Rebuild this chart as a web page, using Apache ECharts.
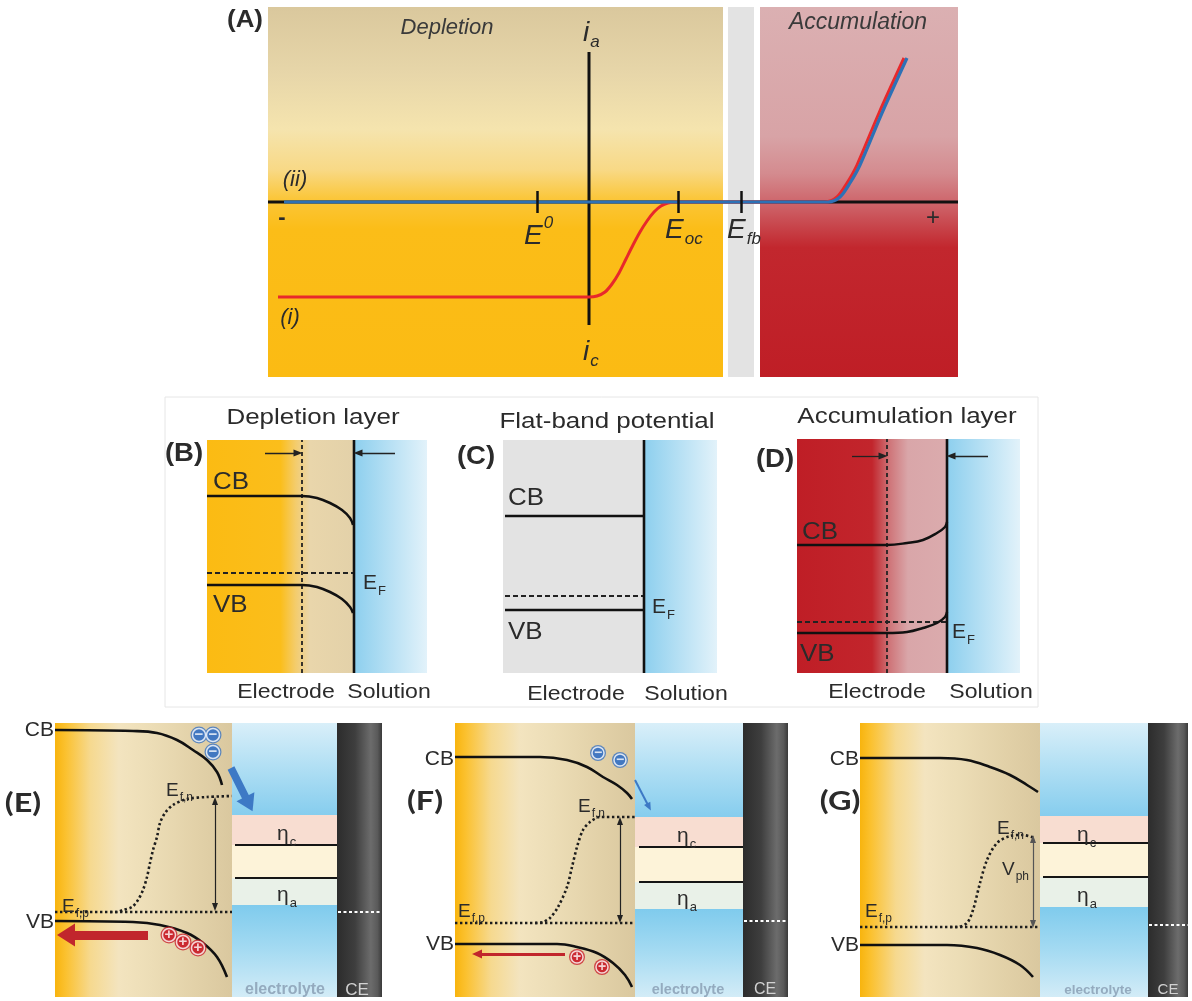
<!DOCTYPE html>
<html>
<head>
<meta charset="utf-8">
<title>Semiconductor electrode: current-potential and band diagrams</title>
<script src="https://cdn.jsdelivr.net/npm/echarts@6/dist/echarts.min.js"></script>
<style>
html,body{margin:0;padding:0;background:#ffffff;}
#chart{width:1192px;height:1001px;}
</style>
</head>
<body>
<div id="chart"></div>
<script>
// ================= DATA (schematic values) =================
// ---- Panel A : potential (x) vs current (y) ----
const A_depletionRange = [0, 455];
const A_flatbandRange = [460, 486];
const A_accumulationRange = [492, 690];
const A_currentRange = [-175, 195];
const A_potentialAxis = [[0, 0], [690, 0]];
const A_currentAxis = [[321, 150], [321, -123]];
const A_tickPotentials = [269, 410, 473];            // E0, Eoc, Efb
const A_tickHalf = 11;
const A_curve_i = [[10,-95],[290,-95],[321,-95],[329,-94],[337,-90],[344,-82],[351,-71],[358,-57],[365,-43],[372,-30],[379,-19],[386,-10],[393,-4],[400,-1],[408,0],[540,0],[557,0],[569,5],[579,19],[589,37],[611,89],[636,144]];
const A_curve_ii = [[16,0],[545,0],[560,0],[572,5],[582,19],[592,37],[614,89],[639,144]];

// ---- Panel B : depletion layer ----
const B_electrodeRange = [0, 147];
const B_solutionRange = [147, 220];
const B_height = [0, 233];
const B_CB = [[0,177],[95,177],[110,175],[123,170],[135,163],[143,155],[146,148]];
const B_VB = [[0,88],[95,88],[110,86],[123,81],[135,74],[143,66],[146,60]];
const B_EF = [[0,100],[147,100]];
const B_layerEdge = [[95,0],[95,233]];
const B_interface = [[147,0],[147,233]];
const B_widthArrows = [[[58,220],[91,220]], [[188,220],[151,220]]];

// ---- Panel C : flat-band potential ----
const C_electrodeRange = [0, 141];
const C_solutionRange = [141, 214];
const C_height = [0, 233];
const C_CB = [[2,157],[141,157]];
const C_VB = [[2,63],[141,63]];
const C_EF = [[2,77],[141,77]];
const C_interface = [[141,0],[141,233]];

// ---- Panel D : accumulation layer ----
const D_electrodeRange = [0, 150];
const D_solutionRange = [150, 223];
const D_height = [0, 234];
const D_CB = [[0,128],[90,128],[110,130],[126,133],[140,140],[148,146],[150,151]];
const D_VB = [[0,40],[90,40],[110,41],[126,45],[140,50],[148,56],[150,61]];
const D_EF = [[0,51],[150,51]];
const D_layerEdge = [[90,0],[90,234]];
const D_interface = [[150,0],[150,234]];
const D_widthArrows = [[[55,217],[86,217]], [[191,217],[154,217]]];

// ---- Panels E, F, G : illuminated junction ----
// electrolyte band edges (y) : [bottom, eta_a low, eta_a top, eta_c low, eta_c top, top]
const E_semi = [0, 177], E_elec = [177, 282], E_ce = [282, 327];
const E_bandEdges = [0, 92, 119, 152, 182, 274];
const E_redox = [[[180,152],[282,152]], [[180,119],[282,119]]];
const E_CB = [[0,267],[78,266],[102,264],[122,257],[138,247],[152,237],[162,225],[167,212]];
const E_VB = [[0,76],[78,75],[105,72],[132,64],[148,54],[162,40],[172,20]];
const E_Efp = [[0,85],[177,85]];
const E_Efn = [[55,85],[62,85],[68,87],[77,90],[83,97],[88,107],[92,120],[95,134],[98,147],[102,160],[105,174],[110,184],[118,192],[132,198],[152,200],[177,201]];
const E_ceLevel = [[283,85],[327,85]];
const E_photovoltage = [[[160,196],[160,90]]];
const E_electronFlow = [[[176,229],[194,193]]];
const E_holeFlow = [[[93,62],[11,62]]];
const E_electrons = [[144,262],[158,262],[158,245]];
const E_holes = [[114,62],[128,55],[143,49]];

const F_semi = [0, 180], F_elec = [180, 288], F_ce = [288, 333];
const F_bandEdges = [0, 88, 115, 150, 180, 274];
const F_redox = [[[184,150],[288,150]], [[184,115],[288,115]]];
const F_CB = [[0,240],[85,240],[112,237],[132,230],[148,220],[162,212],[172,204],[177,198]];
const F_VB = [[0,53],[102,53],[122,50],[142,44],[158,34],[170,22],[177,10]];
const F_Efp = [[0,74],[180,74]];
const F_Efn = [[80,74],[88,75],[95,79],[103,90],[112,110],[117,130],[122,150],[128,167],[135,175],[145,180],[180,180]];
const F_ceLevel = [[289,76],[333,76]];
const F_photovoltage = [[[165,176],[165,78]]];
const F_electronFlow = [[[180,217],[194,190]]];
const F_holeFlow = [[[110,43],[22,43]]];
const F_electrons = [[143,244],[165,237]];
const F_holes = [[122,40],[147,30]];

const G_semi = [0, 180], G_elec = [180, 288], G_ce = [288, 328];
const G_bandEdges = [0, 90, 120, 154, 181, 274];
const G_redox = [[[183,154],[288,154]], [[183,120],[288,120]]];
const G_CB = [[0,239],[80,239],[107,237],[130,230],[150,222],[167,212],[178,205]];
const G_VB = [[0,52],[87,52],[117,49],[140,42],[160,32],[173,20]];
const G_Efp = [[0,70],[180,70]];
const G_Efn = [[90,70],[97,70],[107,74],[113,87],[120,114],[127,137],[137,154],[150,161],[163,162],[175,159]];
const G_ceLevel = [[289,72],[328,72]];
const G_photovoltage = [[[173,158],[173,73]]];

// ================= LAYOUT / STYLE =================
const FF = '"Liberation Sans", Arial, Helvetica, sans-serif';
const INK = '#2b2b2b';
const grids = [
  {left:268, top:7,   width:690, height:370, x:[0,690], y:A_currentRange},
  {left:207, top:440, width:220, height:233, x:[0,220], y:B_height},
  {left:503, top:440, width:214, height:233, x:[0,214], y:C_height},
  {left:797, top:439, width:223, height:234, x:[0,223], y:D_height},
  {left:55,  top:723, width:327, height:274, x:[0,327], y:[0,274]},
  {left:455, top:723, width:335, height:274, x:[0,335], y:[0,274]},
  {left:860, top:723, width:328, height:274, x:[0,328], y:[0,274]}
];
const vgrad = s => ({type:'linear', x:0, y:0, x2:0, y2:1, colorStops:s.map(v=>({offset:v[0], color:v[1]}))});
const hgrad = s => ({type:'linear', x:0, y:0, x2:1, y2:0, colorStops:s.map(v=>({offset:v[0], color:v[1]}))});

const depletionBg = vgrad([[0,'#dac89d'],[0.18,'#e7d6a9'],[0.33,'#f5e4ae'],[0.44,'#f8d986'],[0.52,'#fbc638'],[0.6,'#fbbd18'],[1,'#fbbb13']]);
const accumulationBg = vgrad([[0,'#dbb0b2'],[0.35,'#d8a3a6'],[0.45,'#d48b8f'],[0.55,'#cc5b61'],[0.65,'#c2272e'],[1,'#bf1e26']]);
const yellowLayer = hgrad([[0,'#fbbb13'],[0.5,'#fbbe1b'],[0.6,'#f4cc6a'],[0.7,'#e9d6ab'],[1,'#e3d1a9']]);
const redLayer = hgrad([[0,'#bf1e26'],[0.5,'#c2252c'],[0.62,'#cf767a'],[0.74,'#d9a6a9'],[1,'#dbabad']]);
const solutionBg = hgrad([[0,'#8dcfee'],[1,'#e2f2fa']]);
const semiBg = hgrad([[0,'#f8b40e'],[0.06,'#fbc12f'],[0.2,'#f6d98f'],[0.36,'#f3e4bf'],[0.55,'#ecddb6'],[0.8,'#e2d1a8'],[1,'#dac89f']]);
const upperBlue = vgrad([[0,'#d9eff9'],[0.45,'#b3e0f4'],[1,'#86cdee']]);
const lowerBlue = vgrad([[0,'#7fcbed'],[0.5,'#a6dbf2'],[1,'#d3ecf7']]);
const ceBg = hgrad([[0,'#2c2c2c'],[0.4,'#3e3e3e'],[0.75,'#6c6c6c'],[0.9,'#5a5a5a'],[1,'#3a3a3a']]);

// ================= SERIES BUILDERS =================
const series = [];
function rect(xr, yr, color) {
  return [{coord:[xr[0], yr[0]], itemStyle:{color:color, opacity:1, borderWidth:0}}, {coord:[xr[1], yr[1]]}];
}
function areas(gi, items) {
  series.push({type:'line', xAxisIndex:gi, yAxisIndex:gi, data:[[0,0]], symbol:'none', silent:true, z:1,
    lineStyle:{opacity:0}, markArea:{silent:true, label:{show:false}, emphasis:{disabled:true}, data:items}});
}
function line(gi, data, color, width, type, smooth, extra) {
  series.push(Object.assign({type:'line', xAxisIndex:gi, yAxisIndex:gi, data:data, symbol:'none', showSymbol:false,
    silent:true, smooth:smooth||false, clip:false, z:3, emphasis:{disabled:true},
    lineStyle:{color:color, width:width, type:type||'solid', cap:'butt'}}, extra||{}));
}
function segs(gi, list, color, width, sym, size, type) {
  series.push({type:'line', xAxisIndex:gi, yAxisIndex:gi, data:[[0,0]], symbol:'none', silent:true, z:4,
    lineStyle:{opacity:0},
    markLine:{silent:true, animation:false, symbol:sym, symbolSize:size, label:{show:false}, emphasis:{disabled:true},
      lineStyle:{color:color, width:width, type:type||'solid'},
      itemStyle:{color:color},
      data:list.map(p=>[{coord:p[0]},{coord:p[1]}])}});
}
function charges(gi, data, color, sign, size) {
  series.push({type:'scatter', xAxisIndex:gi, yAxisIndex:gi, data:data, symbol:'circle', symbolSize:size+3, silent:true, z:6,
    itemStyle:{color:color}});
  series.push({type:'scatter', xAxisIndex:gi, yAxisIndex:gi, data:data, symbol:'circle', symbolSize:size-1, silent:true, z:7,
    itemStyle:{color:color, borderColor:'#ffffff', borderWidth:1.5},
    label:{show:true, position:'inside', formatter:sign, color:'#ffffff', fontSize:Math.round(size*1.05), fontWeight:'bold', fontFamily:FF}});
}

// ---- Panel A ----
areas(0, [rect(A_depletionRange, A_currentRange, depletionBg),
          rect(A_flatbandRange, A_currentRange, '#e3e3e3'),
          rect(A_accumulationRange, A_currentRange, accumulationBg)]);
line(0, A_potentialAxis, '#111111', 3);
line(0, A_currentAxis, '#111111', 3);
line(0, A_curve_i, '#e8282b', 3, 'solid', 0.3);
line(0, A_curve_ii, '#2d71b6', 3.2, 'solid', 0.3);
segs(0, A_tickPotentials.map(x=>[[x,-A_tickHalf],[x,A_tickHalf]]), '#111111', 2.5, ['none','none'], 0);

// ---- Panel B ----
areas(1, [rect(B_electrodeRange, B_height, yellowLayer), rect(B_solutionRange, B_height, solutionBg)]);
line(1, B_layerEdge, '#222222', 1.8, [4,3]);
line(1, B_EF, '#222222', 1.8, [5,3]);
line(1, B_CB, '#111111', 2.5, 'solid', 0.4);
line(1, B_VB, '#111111', 2.5, 'solid', 0.4);
line(1, B_interface, '#111111', 2.6);
segs(1, B_widthArrows, '#222222', 1.3, ['none','triangle'], [7,9]);

// ---- Panel C ----
areas(2, [rect(C_electrodeRange, C_height, '#e3e3e3'), rect(C_solutionRange, C_height, solutionBg)]);
line(2, C_EF, '#222222', 1.8, [5,3]);
line(2, C_CB, '#111111', 2.5);
line(2, C_VB, '#111111', 2.5);
line(2, C_interface, '#111111', 2.6);

// ---- Panel D ----
areas(3, [rect(D_electrodeRange, D_height, redLayer), rect(D_solutionRange, D_height, solutionBg)]);
line(3, D_layerEdge, '#222222', 1.8, [4,3]);
line(3, D_EF, '#222222', 1.8, [5,3]);
line(3, D_CB, '#111111', 2.5, 'solid', 0.4);
line(3, D_VB, '#111111', 2.5, 'solid', 0.4);
line(3, D_interface, '#111111', 2.6);
segs(3, D_widthArrows, '#222222', 1.3, ['none','triangle'], [7,9]);

// ---- Panels E, F, G ----
function junction(gi, semi, elec, ce, be, redox, CB, VB, Efp, Efn, ceLevel, vph, vphColor) {
  const full = [be[0], be[5]];
  areas(gi, [rect(semi, full, semiBg),
             rect(elec, [be[4], be[5]], upperBlue),
             rect(elec, [be[3], be[4]], '#f8ddd1'),
             rect(elec, [be[2], be[3]], '#fdf3d9'),
             rect(elec, [be[1], be[2]], '#e9f1e8'),
             rect(elec, [be[0], be[1]], lowerBlue),
             rect(ce, full, ceBg)]);
  segs(gi, redox, '#151515', 2.2, ['none','none'], 0);
  line(gi, Efp, '#1d1d1d', 2.6, [2.4,2.6]);
  line(gi, Efn, '#1d1d1d', 2.6, [2.4,2.6], 0.3);
  line(gi, CB, '#111111', 2.6, 'solid', 0.4);
  line(gi, VB, '#111111', 2.6, 'solid', 0.4);
  line(gi, ceLevel, '#ffffff', 2, [3,2.5]);
  segs(gi, vph, vphColor, 1.2, ['triangle','triangle'], [6,8]);
}
junction(4, E_semi, E_elec, E_ce, E_bandEdges, E_redox, E_CB, E_VB, E_Efp, E_Efn, E_ceLevel, E_photovoltage, '#222222');
segs(4, E_electronFlow, '#3d79c5', 7.5, ['none','triangle'], [20,16]);
segs(4, E_holeFlow, '#c1262c', 9, ['none','triangle'], [23,18]);
charges(4, E_electrons, '#3c74c2', '−', 14);
charges(4, E_holes, '#c9232c', '+', 14);

junction(5, F_semi, F_elec, F_ce, F_bandEdges, F_redox, F_CB, F_VB, F_Efp, F_Efn, F_ceLevel, F_photovoltage, '#222222');
segs(5, F_electronFlow, '#3d79c5', 2, ['none','triangle'], [7,8]);
segs(5, F_holeFlow, '#c1262c', 3, ['none','triangle'], [9,10]);
charges(5, F_electrons, '#3c74c2', '−', 13);
charges(5, F_holes, '#c9232c', '+', 13);

junction(6, G_semi, G_elec, G_ce, G_bandEdges, G_redox, G_CB, G_VB, G_Efp, G_Efn, G_ceLevel, G_photovoltage, '#555555');

// ================= TEXT =================
function T(x, y, text, size, o) {
  o = o || {};
  return {type:'text', x:x, y:y, scaleX:o.sx||1, silent:true, z:100,
    style:{text:text, fontSize:size, fontFamily:o.ff||FF, fontStyle:o.fs||'normal', fontWeight:o.fw||'normal',
      fill:o.c||INK, align:o.a||'center', verticalAlign:'middle'}};
}
function S(x, y, main, sub, size, o) {   // main text with subscript
  o = o || {};
  const base = {fontFamily:o.ff||FF, fontStyle:o.fs||'normal', fill:o.c||INK, fontWeight:'normal'};
  const s = Math.round(size*0.62);
  return {type:'text', x:x, y:y, scaleX:o.sx||1, silent:true, z:100,
    style:{text:'{m|'+main+'}{s|'+sub+'}', align:o.a||'left', verticalAlign:'middle', fontSize:size, fontFamily:base.fontFamily, fill:base.fill,
      rich:{m:Object.assign({fontSize:size, lineHeight:size, verticalAlign:'top'}, base),
            s:Object.assign({fontSize:s, lineHeight:s, verticalAlign:'top', padding:[Math.round(size*0.55),0,0,1]}, base)}}};
}
function P(x, y, main, sup, size, o) {   // main text with superscript
  o = o || {};
  const base = {fontFamily:o.ff||FF, fontStyle:o.fs||'normal', fill:o.c||INK, fontWeight:'normal'};
  const s = Math.round(size*0.62);
  return {type:'text', x:x, y:y, silent:true, z:100,
    style:{text:'{m|'+main+'}{s|'+sup+'}', align:o.a||'left', verticalAlign:'middle', fontSize:size, fontFamily:base.fontFamily, fill:base.fill,
      rich:{m:Object.assign({fontSize:size, lineHeight:size, verticalAlign:'top', padding:[Math.round(size*0.25),0,0,0]}, base),
            s:Object.assign({fontSize:s, lineHeight:s, verticalAlign:'top', padding:[0,0,0,1]}, base)}}};
}
const IT = {fs:'italic'};
const BOLD = {fw:'bold'};
const PANEL = {fw:'bold', ff:'Lato, "Open Sans", sans-serif', sx:1.2};
const LBL_SMALL = {sx:1.1};
const TITLE = {sx:1.18};
const texts = [
  // A
  T(245, 20, '(A)', 24, {fw:'bold', sx:1.08}),
  T(447, 28, 'Depletion', 22, {fs:'italic', c:'#3a3a3a'}),
  T(858, 23, 'Accumulation', 23, {fs:'italic', c:'#3a3a3a'}),
  S(583, 33, 'i', 'a', 28, {fs:'italic'}),
  S(583, 352, 'i', 'c', 28, {fs:'italic'}),
  T(295, 180, '(ii)', 22, IT),
  T(290, 318, '(i)', 22, IT),
  T(282, 218, '-', 22, BOLD),
  T(933, 218, '+', 24),
  P(524, 229, 'E', '0', 28, IT),
  S(665, 230, 'E', 'oc', 28, IT),
  S(727, 230, 'E', 'fb', 28, IT),
  // B
  T(313, 418, 'Depletion layer', 22, TITLE),
  T(184, 454, '(B)', 25, {fw:'bold', sx:1.1}),
  T(213, 482, 'CB', 24, {a:'left', sx:1.08}),
  T(213, 605, 'VB', 24, {a:'left', sx:1.08}),
  S(363, 583, 'E', 'F', 21),
  T(286, 692, 'Electrode', 21, LBL_SMALL),
  T(389, 692, 'Solution', 21, LBL_SMALL),
  // C
  T(607, 422, 'Flat-band potential', 22, TITLE),
  T(476, 457, '(C)', 25, {fw:'bold', sx:1.1}),
  T(508, 498, 'CB', 24, {a:'left', sx:1.08}),
  T(508, 632, 'VB', 24, {a:'left', sx:1.08}),
  S(652, 607, 'E', 'F', 21),
  T(576, 694, 'Electrode', 21, LBL_SMALL),
  T(686, 694, 'Solution', 21, LBL_SMALL),
  // D
  T(907, 417, 'Accumulation layer', 22, TITLE),
  T(775, 460, '(D)', 25, {fw:'bold', sx:1.1}),
  T(802, 532, 'CB', 24, {a:'left', sx:1.08}),
  T(800, 654, 'VB', 24, {a:'left', sx:1.08}),
  S(952, 632, 'E', 'F', 21),
  T(877, 692, 'Electrode', 21, LBL_SMALL),
  T(991, 692, 'Solution', 21, LBL_SMALL),
  // E
  T(23, 803, '(E)', 27, PANEL),
  T(54, 730, 'CB', 21, {a:'right'}),
  T(54, 922, 'VB', 21, {a:'right'}),
  S(166, 791, 'E', 'f,n', 19),
  S(62, 907, 'E', 'f,p', 19),
  S(277, 834, 'η', 'c', 21),
  S(277, 895, 'η', 'a', 21),
  T(285, 990, 'electrolyte', 16, {fw:'bold', c:'#94abbf'}),
  T(357, 990, 'CE', 17, {c:'#d2d2d2'}),
  // F
  T(425, 801, '(F)', 27, PANEL),
  T(454, 759, 'CB', 21, {a:'right'}),
  T(454, 944, 'VB', 21, {a:'right'}),
  S(578, 807, 'E', 'f,n', 19),
  S(458, 912, 'E', 'f,p', 19),
  S(677, 836, 'η', 'c', 21),
  S(677, 899, 'η', 'a', 21),
  T(688, 990, 'electrolyte', 14.5, {fw:'bold', c:'#94abbf'}),
  T(765, 990, 'CE', 16, {c:'#d2d2d2'}),
  // G
  T(840, 801, '(G)', 27, PANEL),
  T(859, 759, 'CB', 21, {a:'right'}),
  T(859, 945, 'VB', 21, {a:'right'}),
  S(997, 829, 'E', 'f,n', 19),
  S(865, 912, 'E', 'f,p', 19),
  S(1002, 870, 'V', 'ph', 19),
  S(1077, 835, 'η', 'c', 21),
  S(1077, 896, 'η', 'a', 21),
  T(1098, 990, 'electrolyte', 13.5, {fw:'bold', c:'#94abbf'}),
  T(1168, 990, 'CE', 15, {c:'#d2d2d2'})
];
const frame = {type:'rect', silent:true, z:0, shape:{x:165, y:397, width:873, height:310},
  style:{fill:'none', stroke:'#e6e6e6', lineWidth:1}};

const option = {
  backgroundColor:'#ffffff',
  animation:false,
  grid: grids.map(g=>({left:g.left, top:g.top, width:g.width, height:g.height, show:false, containLabel:false, outerBoundsMode:'none'})),
  xAxis: grids.map((g,i)=>({type:'value', gridIndex:i, min:g.x[0], max:g.x[1], show:false})),
  yAxis: grids.map((g,i)=>({type:'value', gridIndex:i, min:g.y[0], max:g.y[1], show:false})),
  series: series,
  graphic: [frame].concat(texts)
};
const chart = echarts.init(document.getElementById('chart'), null, {renderer:'canvas'});
chart.setOption(option);
</script>
</body>
</html>
